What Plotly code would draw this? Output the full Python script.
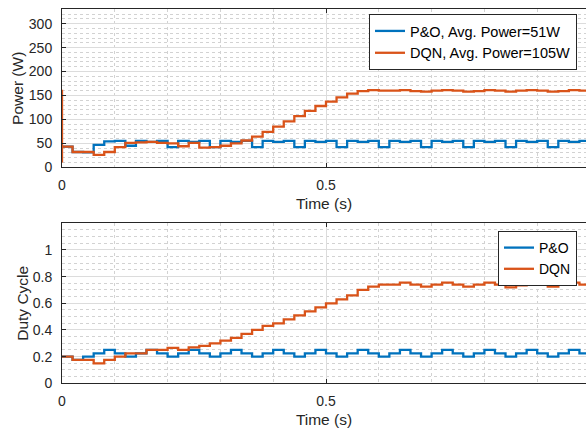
import plotly.graph_objects as go

# ---------------- data ----------------
# step start times (s), 0.02 s per control step, last entry closes the final step
t_steps = [0.00, 0.02, 0.04, 0.06, 0.08, 0.10, 0.12, 0.14, 0.16, 0.18,
           0.20, 0.22, 0.24, 0.26, 0.28, 0.30, 0.32, 0.34, 0.36, 0.38,
           0.40, 0.42, 0.44, 0.46, 0.48, 0.50, 0.52, 0.54, 0.56, 0.58,
           0.60, 0.62, 0.64, 0.66, 0.68, 0.70, 0.72, 0.74, 0.76, 0.78,
           0.80, 0.82, 0.84, 0.86, 0.88, 0.90, 0.92, 0.94, 0.96, 0.98, 1.00]

po_power = [43, 32, 31, 47, 54, 55, 45, 55, 53, 55,
            42, 55, 53, 55, 42, 55, 53, 55, 42, 55,
            53, 55, 42, 55, 53, 55, 42, 55, 53, 55,
            42, 55, 53, 55, 42, 55, 53, 55, 42, 55,
            53, 55, 42, 55, 53, 55, 42, 55, 53, 55, 55]

dqn_power = [43, 32, 32, 26, 32, 42, 51, 52, 53, 51,
             50, 44, 51, 41, 42, 45, 50, 56, 64, 74,
             85, 96, 107, 118, 128, 137, 146, 154, 159, 161,
             160, 160, 161, 159, 158, 160, 161, 160, 158, 159,
             161, 160, 158, 160, 161, 160, 158, 159, 161, 160, 160]

# start-up transient of the DQN power at t = 0
dqn_spike_t = [0.0, 0.0]
dqn_spike_p = [162, 10]

po_duty = [0.200, 0.175, 0.200, 0.225, 0.250, 0.225, 0.200, 0.225, 0.250, 0.225,
           0.200, 0.225, 0.250, 0.225, 0.200, 0.225, 0.250, 0.225, 0.200, 0.225,
           0.250, 0.225, 0.200, 0.225, 0.250, 0.225, 0.200, 0.225, 0.250, 0.225,
           0.200, 0.225, 0.250, 0.225, 0.200, 0.225, 0.250, 0.225, 0.200, 0.225,
           0.250, 0.225, 0.200, 0.225, 0.250, 0.225, 0.200, 0.225, 0.250, 0.225, 0.225]

dqn_duty = [0.200, 0.175, 0.175, 0.150, 0.175, 0.200, 0.225, 0.225, 0.250, 0.250,
            0.265, 0.250, 0.270, 0.280, 0.300, 0.320, 0.340, 0.370, 0.400, 0.430,
            0.450, 0.480, 0.510, 0.540, 0.570, 0.600, 0.630, 0.660, 0.700, 0.725,
            0.740, 0.740, 0.755, 0.740, 0.725, 0.740, 0.755, 0.740, 0.725, 0.740,
            0.755, 0.740, 0.720, 0.735, 0.755, 0.740, 0.725, 0.740, 0.755, 0.740, 0.740]

names_top = ["P&O, Avg. Power=51W", "DQN, Avg. Power=105W"]
names_bot = ["P&O", "DQN"]

x_ticks = [0, 0.5, 1]
power_ticks = [0, 50, 100, 150, 200, 250, 300]
duty_ticks = [0, 0.2, 0.4, 0.6, 0.8, 1]

# ---------------- style ----------------
BLUE = "#0072BD"
ORANGE = "#D95319"
AX = "#262626"
FONT = "Liberation Sans, Arial, Helvetica, sans-serif"
LW = 2.3

fig = go.Figure()

fig.add_trace(go.Scatter(x=t_steps, y=po_power, mode="lines", line_shape="hv",
                         line=dict(color=BLUE, width=LW), name=names_top[0],
                         xaxis="x", yaxis="y", legend="legend"))
fig.add_trace(go.Scatter(x=dqn_spike_t + t_steps, y=dqn_spike_p + dqn_power,
                         mode="lines", line_shape="hv",
                         line=dict(color=ORANGE, width=LW), name=names_top[1],
                         xaxis="x", yaxis="y", legend="legend"))
fig.add_trace(go.Scatter(x=t_steps, y=po_duty, mode="lines", line_shape="hv",
                         line=dict(color=BLUE, width=LW), name=names_bot[0],
                         xaxis="x2", yaxis="y2", legend="legend2"))
fig.add_trace(go.Scatter(x=t_steps, y=dqn_duty, mode="lines", line_shape="hv",
                         line=dict(color=ORANGE, width=LW), name=names_bot[1],
                         xaxis="x2", yaxis="y2", legend="legend2"))

W, H = 586, 434
L = 62
xr = [0, (W - L) / 528.0]


def xaxis_style(anchor):
    return dict(
        anchor=anchor, domain=[0, 1], range=xr, tickmode="array", tickvals=x_ticks,
        automargin=False,
        ticks="inside", ticklen=4, tickcolor=AX, showline=True, linecolor=AX,
        linewidth=1, mirror="ticks", showgrid=True, gridcolor="#dcdcdc",
        gridwidth=1, zeroline=False, ticklabelstandoff=5,
        tickfont=dict(family=FONT, size=14, color=AX),
        title=dict(text="Time (s)", font=dict(family=FONT, size=15.5, color=AX),
                   standoff=6),
        minor=dict(dtick=0.1, showgrid=True, gridcolor="#d2d2d2", griddash="dot",
                   gridwidth=1, ticks=""),
    )


def yaxis_style(anchor, dom, rng, vals, dmin, title, stand):
    return dict(
        anchor=anchor, domain=dom, range=rng, tickmode="array", tickvals=vals,
        automargin=False,
        ticks="inside", ticklen=4, tickcolor=AX, showline=True, linecolor=AX,
        linewidth=1, mirror=False, showgrid=True, gridcolor="#dcdcdc",
        gridwidth=1, zeroline=False, ticklabelstandoff=6,
        tickfont=dict(family=FONT, size=14, color=AX),
        title=dict(text=title, font=dict(family=FONT, size=15.5, color=AX),
                   standoff=stand),
        minor=dict(dtick=dmin, showgrid=True, gridcolor="#d2d2d2", griddash="dot",
                   gridwidth=1, ticks=""),
    )


fig.update_layout(
    width=W, height=H,
    margin=dict(l=L, r=0, t=0, b=0, autoexpand=False),
    paper_bgcolor="white", plot_bgcolor="white",
    font=dict(family=FONT, color=AX),
    xaxis=xaxis_style("y"),
    yaxis=yaxis_style("x", [1 - 167.3 / H, 1 - 9.3 / H], [0, 330], power_ticks, 10,
                      "Power (W)", 1),
    xaxis2=xaxis_style("y2"),
    yaxis2=yaxis_style("x2", [1 - 383.3 / H, 1 - 223.3 / H], [0, 1.2], duty_ticks,
                       0.05, "Duty Cycle", 0),
    legend=dict(x=(577 - L) / (W - L), y=1 - 14 / H, xanchor="right", yanchor="top",
                bgcolor="white", bordercolor=AX, borderwidth=1,
                font=dict(family=FONT, size=14.5, color="#000000"),
                tracegroupgap=0, itemwidth=30),
    legend2=dict(x=(577 - L) / (W - L), y=1 - 231 / H, xanchor="right", yanchor="top",
                 bgcolor="white", bordercolor=AX, borderwidth=1,
                 font=dict(family=FONT, size=14, color="#000000"),
                 tracegroupgap=0, itemwidth=30),
    showlegend=True,
)

fig.write_html("out.html",
               config={"displayModeBar": False},
               post_script="document.body.style.margin='0px';"
                           "document.body.style.overflow='hidden';")
